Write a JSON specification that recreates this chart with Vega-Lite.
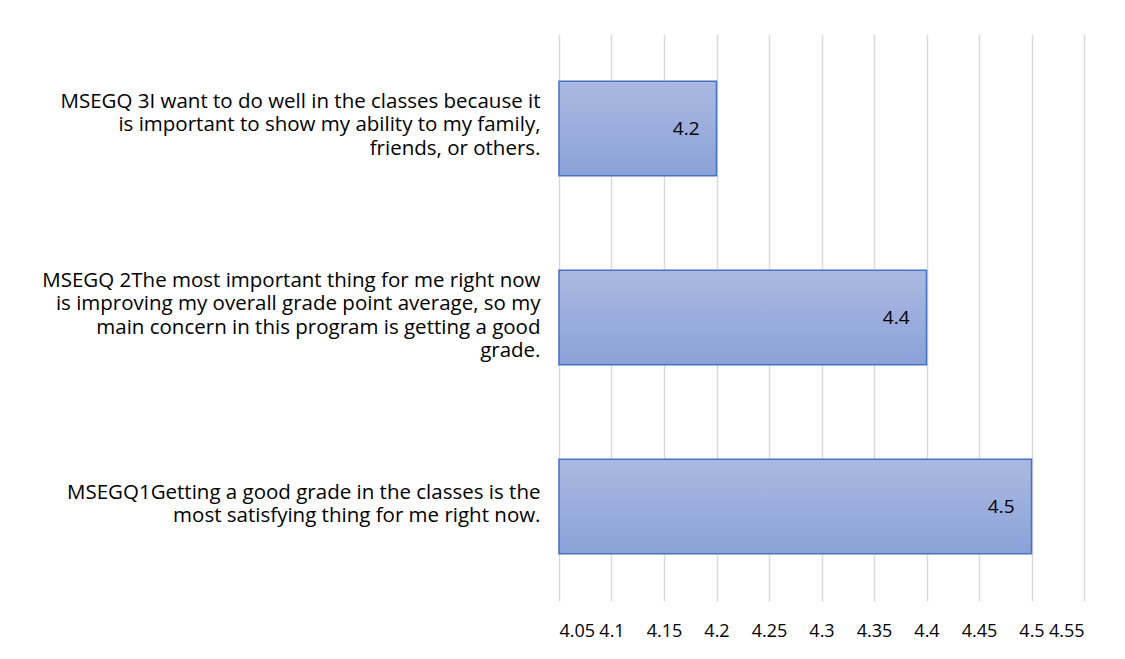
{
  "$schema": "https://vega.github.io/schema/vega-lite/v6.json",
  "width": 525,
  "height": 567,
  "autosize": {"type": "none"},
  "padding": {"left": 559, "top": 34, "right": 41, "bottom": 58},
  "background": "white",
  "config": {"view": {"stroke": null}, "font": "Open Sans"},
  "data": {"values": [
    {"item": "MSEGQ 3I want to do well in the classes because it|is important to show my ability to my family,|friends, or others.", "value": 4.2},
    {"item": "MSEGQ 2The most important thing for me right now|is improving my overall grade point average, so my|main concern in this program is getting a good|grade.", "value": 4.4},
    {"item": "MSEGQ1Getting a good grade in the classes is the|most satisfying thing for me right now.", "value": 4.5}
  ]},
  "encoding": {
    "y": {"field": "item", "type": "nominal", "sort": null, "title": null,
      "scale": {"paddingInner": 0.5, "paddingOuter": 0.25},
      "axis": {"domain": false, "ticks": false, "labelPadding": 19, "labelLimit": 600,
        "labelExpr": "split(datum.label, '|')", "labelLineHeight": 23.5,
        "labelOffset": {"condition": [
          {"test": "indexof(datum.label, 'MSEGQ 3') === 0", "value": -27},
          {"test": "indexof(datum.label, 'MSEGQ 2') === 0", "value": -37}
        ], "value": -14},
        "labelFontSize": 20.5, "labelColor": "#000000", "labelAlign": "right"}},
    "x": {"field": "value", "type": "quantitative", "title": null,
      "scale": {"domain": [4.05, 4.55], "zero": false, "nice": false},
      "axis": {"values": [4.05, 4.1, 4.15, 4.2, 4.25, 4.3, 4.35, 4.4, 4.45, 4.5, 4.55],
        "format": "~g", "domain": false, "ticks": false, "labelPadding": 21,
        "labelFontSize": 18, "labelColor": "#000000", "labelOverlap": false,
        "gridColor": "#d9d9d9", "gridWidth": 1.5}}
  },
  "layer": [
    {"mark": {"type": "bar", "strokeWidth": 1.5, "stroke": "#4472c4",
      "color": {"gradient": "linear", "x1": 0, "y1": 0, "x2": 0, "y2": 1,
        "stops": [{"offset": 0, "color": "#aab9e2"}, {"offset": 1, "color": "#8ba2d8"}]}},
     "encoding": {"x2": {"datum": 4.05}}},
    {"mark": {"type": "text", "align": "right", "dx": -17, "fontSize": 19, "color": "#000000"},
     "encoding": {"text": {"field": "value", "type": "quantitative", "format": "~g"}}}
  ]
}
